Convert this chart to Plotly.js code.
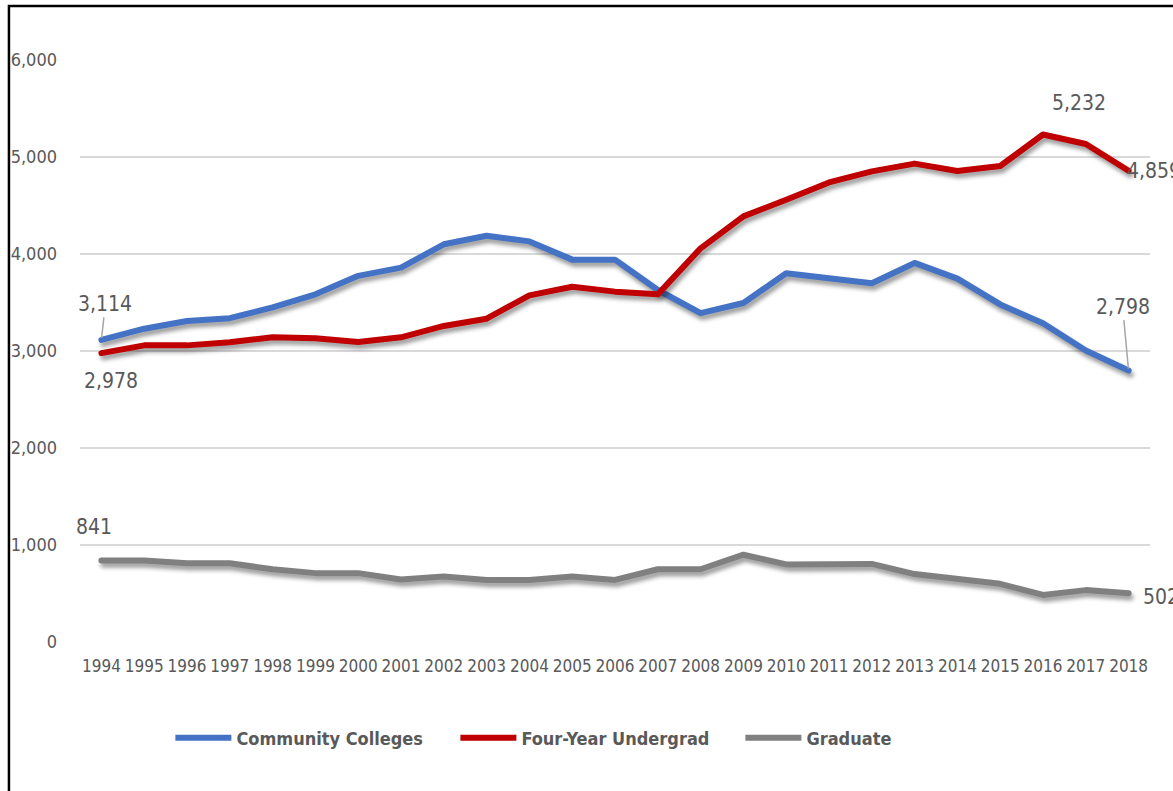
<!DOCTYPE html>
<html>
<head>
<meta charset="utf-8">
<script src="https://cdn.plot.ly/plotly-3.0.1.min.js"></script>
<style>
  html, body { margin: 0; padding: 0; background: #ffffff; }
  #plotArea { width: 1173px; height: 791px; }
  #plotArea svg text { font-stretch: condensed; }
  .scatterlayer .js-line {
    filter: drop-shadow(2px 4px 2px rgba(0, 0, 0, 0.4));
    stroke-linejoin: round;
    stroke-linecap: round;
  }
</style>
</head>
<body>
<div id="plotArea"></div>
<script>
// enrollment counts
var years = ["1994", "1995", "1996", "1997", "1998", "1999", "2000", "2001", "2002", "2003", "2004", "2005",
  "2006", "2007", "2008", "2009", "2010", "2011", "2012", "2013", "2014", "2015", "2016", "2017", "2018"];

var communityColleges = [3114, 3230, 3310, 3338, 3450, 3585, 3775, 3860, 4100, 4188, 4130, 3942,
  3942, 3629, 3390, 3495, 3802, 3750, 3698, 3908, 3746, 3480, 3287, 3005, 2798];

var fourYearUndergrad = [2978, 3058, 3058, 3090, 3142, 3131, 3093, 3141, 3258, 3333, 3574, 3663,
  3612, 3584, 4059, 4388, 4560, 4738, 4852, 4932, 4856, 4907, 5232, 5134, 4859];

var graduate = [841, 841, 811, 811, 750, 710, 710, 645, 675, 640, 640, 675,
  640, 750, 750, 900, 800, 800, 805, 700, 650, 600, 485, 535, 502];

var seriesNames = ["Community Colleges", "Four-Year Undergrad", "Graduate"];
var seriesColors = ["#4472C4", "#C00000", "#808080"];

var fontFamily = "'DejaVu Sans', sans-serif";
var textColor = "#595959";
var last = years.length - 1;
var peak = 22; // 2016

var data = [communityColleges, fourYearUndergrad, graduate].map(function(values, i) {
  return {
    x: years,
    y: values,
    name: seriesNames[i],
    type: "scatter",
    mode: "lines",
    line: {color: seriesColors[i], width: 6},
    hoverinfo: "x+y+name"
  };
});

function fmt(v) {
  return v.toLocaleString("en-US");
}

var labelFont = {family: fontFamily, size: 21, color: textColor};

// on a category axis an annotation's x can be the category index
var annotations = [
  // Community Colleges, with leader lines
  {x: 0, y: communityColleges[0], text: fmt(communityColleges[0]), showarrow: true,
    arrowhead: 0, arrowwidth: 1.5, arrowcolor: "#a6a6a6", ax: 4, ay: -36, standoff: 2, font: labelFont},
  {x: last, y: communityColleges[last], text: fmt(communityColleges[last]), showarrow: true,
    arrowhead: 0, arrowwidth: 1.5, arrowcolor: "#a6a6a6", ax: -6, ay: -64, standoff: 2, font: labelFont},
  // Four-Year Undergrad
  {x: 0, y: fourYearUndergrad[0], text: fmt(fourYearUndergrad[0]), showarrow: false,
    xshift: 10, yshift: -28, font: labelFont},
  {x: peak, y: fourYearUndergrad[peak], text: fmt(fourYearUndergrad[peak]), showarrow: false,
    xshift: 36, yshift: 32, font: labelFont},
  {x: last, y: fourYearUndergrad[last], text: fmt(fourYearUndergrad[last]), showarrow: false,
    xanchor: "left", xshift: -7, yshift: 0, font: labelFont},
  // Graduate
  {x: 0, y: graduate[0], text: fmt(graduate[0]), showarrow: false,
    xshift: -7, yshift: 33, font: labelFont},
  {x: last, y: graduate[last], text: fmt(graduate[last]), showarrow: false,
    xanchor: "left", xshift: 10, yshift: -4, font: labelFont}
];

var layout = {
  width: 1173,
  height: 791,
  margin: {l: 80, r: 23, t: 60, b: 149},
  paper_bgcolor: "#ffffff",
  plot_bgcolor: "#ffffff",
  font: {family: fontFamily, color: textColor},
  showlegend: true,
  legend: {
    orientation: "h",
    x: 0.484,
    xanchor: "center",
    y: -0.165,
    yanchor: "middle",
    font: {family: fontFamily, size: 18, color: textColor, weight: "bold"},
    itemwidth: 56,
    entrywidth: 214,
    tracegroupgap: 0
  },
  xaxis: {
    type: "category",
    range: [-0.5, years.length - 0.5],
    autorange: false,
    showgrid: false,
    zeroline: false,
    showline: false,
    ticks: "",
    tickangle: 0,
    tickfont: {family: fontFamily, size: 17, color: textColor},
    ticklabelstandoff: 12,
    fixedrange: true
  },
  yaxis: {
    range: [0, 6000],
    autorange: false,
    tickvals: [0, 1000, 2000, 3000, 4000, 5000, 6000],
    ticktext: ["0", "1,000", "2,000", "3,000", "4,000", "5,000", "6,000"],
    showgrid: true,
    gridcolor: "#d9d9d9",
    gridwidth: 2,
    zeroline: false,
    showline: false,
    ticks: "",
    tickfont: {family: fontFamily, size: 18, color: textColor},
    ticklabelstandoff: 22,
    fixedrange: true
  },
  shapes: [
    {type: "rect", xref: "paper", yref: "paper", x0: -0.0664, x1: 1.2, y0: -0.5, y1: 1.0928,
      line: {color: "#000000", width: 2.5}, fillcolor: "rgba(0,0,0,0)", layer: "above"}
  ],
  annotations: annotations
};

Plotly.newPlot("plotArea", data, layout, {displayModeBar: false, staticPlot: true});
</script>
</body>
</html>
